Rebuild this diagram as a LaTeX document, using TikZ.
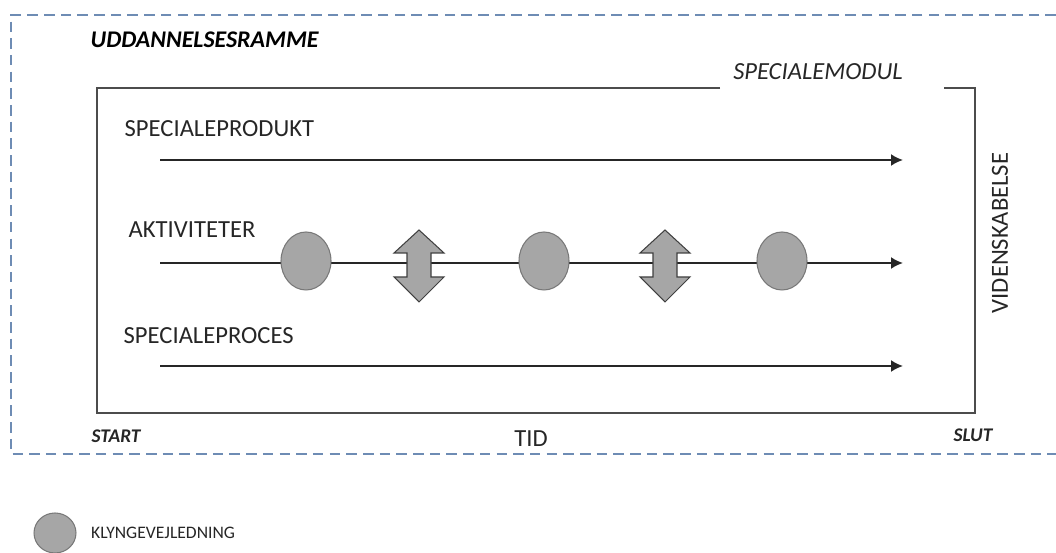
\documentclass[tikz,border=0pt]{standalone}
\usepackage{fontspec}
\setmainfont{Carlito}
\usepackage{tikz}
\usetikzlibrary{arrows,arrows.meta}
\usetikzlibrary{shapes}
\usetikzlibrary{positioning}
\definecolor{rammeblue}{RGB}{110,140,180}
\definecolor{klyngegray}{RGB}{166,166,166}
\definecolor{kantgray}{RGB}{120,120,120}
\tikzstyle{line} = [draw, black!85, line width=1.1pt, -{Latex[length=0.24cm, width=0.24cm]}]

\begin{document}
\begin{tikzpicture}[x=0.02cm, y=-0.02cm, line width=0.8pt,
	txt/.style={font=\fontsize{14}{16}\selectfont, text=black!85, inner sep=0pt, anchor=west},
	ital/.style={font=\fontsize{14}{16}\selectfont\itshape, text=black!85, inner sep=0pt},
	klynge/.style={ellipse, draw=kantgray, fill=klyngegray, line width=0.6pt, minimum width=1cm, minimum height=1.16cm},
	pil/.style={draw=black!75, fill=klyngegray, line width=0.6pt}]
	\useasboundingbox (0,0) rectangle (1056,553);

	% ramme
	\draw[rammeblue, line width=0.9pt, dash pattern=on 6pt off 3.5pt] (1056,15) -- (11,15) -- (11,454) -- (1056,454);
	\node[ital, font=\fontsize{13.6}{15}\selectfont\bfseries\itshape, text=black, anchor=west] (ramme) at (90,40) {UDDANNELSESRAMME};

	% modul
	\draw[black!70, line width=1.1pt] (720,88) -- (97,88) -- (97,413) -- (975,413) -- (975,88) -- (944,88);
	\node[ital] (modul) at (818,72) {SPECIALEMODUL};

	% produkt
	\node[txt] (produkt) at (124,129) {SPECIALEPRODUKT};
	\coordinate (p1) at (160,160);
	\coordinate (p2) at (903,160);
	\path[line] (p1) -- (p2);

	% aktiviteter
	\node[txt] (akt) at (128,230) {AKTIVITETER};
	\coordinate (a1) at (160,263);
	\coordinate (a2) at (903,263);
	\path[line] (a1) -- (a2);
	\foreach \x/\n in {306/k1,544/k2,782/k3}
		\node[klynge] (\n) at (\x,261) {};
	\foreach \x in {419,665}
		\draw[pil] (\x,230) -- (\x+25,253) -- (\x+12,253) -- (\x+12,277) -- (\x+25,277)
			-- (\x,302) -- (\x-25,277) -- (\x-12,277) -- (\x-12,253) -- (\x-25,253) -- cycle;

	% proces
	\node[txt] (proces) at (123,336) {SPECIALEPROCES};
	\coordinate (s1) at (160,366);
	\coordinate (s2) at (903,366);
	\path[line] (s1) -- (s2);

	\node[txt, anchor=center, rotate=90] (viden) at (1000,233) {VIDENSKABELSE};

	% tid
	\node[ital, font=\fontsize{11}{13}\selectfont\bfseries\itshape, anchor=west] (start) at (91,436) {START};
	\node[txt, anchor=center] (tid) at (531,439) {TID};
	\node[ital, font=\fontsize{11}{13}\selectfont\bfseries\itshape] (slut) at (973,435) {SLUT};

	% legend
	\node[klynge, minimum width=0.84cm, minimum height=0.8cm] (leg) at (55,533) {};
	\node[txt, font=\fontsize{10}{12}\selectfont, right=0.28cm of leg] (legtxt) {KLYNGEVEJLEDNING};
\end{tikzpicture}
\end{document}
